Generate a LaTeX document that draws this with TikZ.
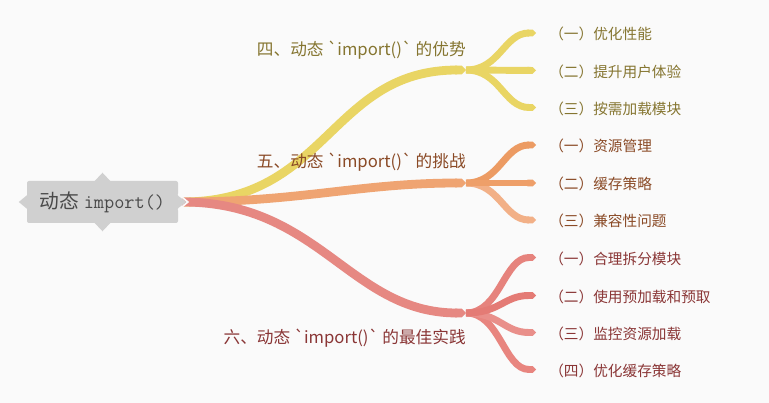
\documentclass[tikz,border=0pt]{standalone}
\usepackage{fontspec}
\setmainfont{Noto Sans CJK SC}
\usetikzlibrary{arrows.meta,calc}
\definecolor{bgc}{HTML}{FAFAFA}
\definecolor{rootc}{HTML}{D0D0D0}
\definecolor{roottxt}{HTML}{4A4A4A}
\definecolor{yel}{HTML}{E9D564}
\definecolor{yeltxt}{HTML}{857530}
\definecolor{ora}{HTML}{EFA472}
\definecolor{ora1}{HTML}{EC9B63}
\definecolor{ora2}{HTML}{EE9F69}
\definecolor{ora3}{HTML}{F2B087}
\definecolor{oratxt}{HTML}{8A4A26}
\definecolor{redm}{HTML}{E68882}
\definecolor{red1}{HTML}{E6837D}
\definecolor{red2}{HTML}{E47B75}
\definecolor{red3}{HTML}{E98F8A}
\definecolor{red4}{HTML}{E8857F}
\definecolor{redtxt}{HTML}{8A3636}
\begin{document}
\begin{tikzpicture}[x=0.75pt,y=-0.75pt,
  mainbr/.style={line width=6.6pt,-{Triangle Cap}},
  halo/.style={draw=bgc,line width=8.8pt,-{Triangle Cap}},
  subbr/.style={line width=5.2pt,-{Triangle Cap}},
  brlabel/.style={anchor=east,inner sep=0pt,font=\fontsize{12.5}{15}\selectfont},
  leaf/.style={anchor=west,inner sep=0pt,font=\fontsize{11}{13}\selectfont},
  rootbox/.style={fill=rootc,rounded corners=1.5pt,minimum width=113.25pt,minimum height=31.5pt,inner sep=0pt,text=roottxt,font=\fontsize{14.8}{17}\selectfont}
]
\fill[bgc] (0,0) rectangle (769,403);
\useasboundingbox (0,0) rectangle (769,403);

% root
\node[rootbox] (root) at (102.5,202) {动态 \texttt{import()}};
\fill[rootc] ($(root.north)+(-8,0.5)$) -- ($(root.north)+(0,-8)$) -- ($(root.north)+(8,0.5)$) -- cycle;
\fill[rootc] ($(root.south)+(-8,-0.5)$) -- ($(root.south)+(0,8)$) -- ($(root.south)+(8,-0.5)$) -- cycle;
\fill[rootc] ($(root.west)+(0.5,-7)$) -- ($(root.west)+(-8,0)$) -- ($(root.west)+(0.5,7)$) -- cycle;

\coordinate (S) at ($(root.east)+(4,0)$);
\coordinate (J1) at (466,70);
\coordinate (J2) at (466,183);
\coordinate (J3) at (466,313);

\coordinate (L11) at (536,33);
\coordinate (L12) at (536,70.5);
\coordinate (L13) at (536,107.5);
\coordinate (L21) at (536,145);
\coordinate (L22) at (536,183);
\coordinate (L23) at (536,220);
\coordinate (L31) at (536,257.5);
\coordinate (L32) at (536,295.5);
\coordinate (L33) at (536,332.5);
\coordinate (L34) at (536,369.5);

% sub branches
\draw[subbr,yel] (J1) .. controls +(34,0) and +(-32,0) .. (L11);
\draw[subbr,yel] (J1) -- (L12);
\draw[subbr,yel] (J1) .. controls +(34,0) and +(-32,0) .. (L13);

\draw[subbr,ora3] (J2) .. controls +(34,0) and +(-32,0) .. (L23);
\draw[subbr,ora1] (J2) .. controls +(34,0) and +(-32,0) .. (L21);
\draw[subbr,ora2] (J2) -- (L22);

\draw[subbr,red4] (J3) .. controls +(34,0) and +(-32,0) .. (L34);
\draw[subbr,red1] (J3) .. controls +(34,0) and +(-32,0) .. (L31);
\draw[subbr,red3] (J3) .. controls +(34,0) and +(-32,0) .. (L33);
\draw[subbr,red2] (J3) .. controls +(34,0) and +(-32,0) .. (L32);

% halos for notches
\draw[halo] ($(J1)+(-1,0)$) -- (J1);
\draw[halo] ($(J2)+(-1,0)$) -- (J2);
\draw[halo] ($(J3)+(-1,0)$) -- (J3);

% main branches
\draw[mainbr,yel] (S) .. controls +(146,0) and +(-136,0) .. (J1);
\draw[mainbr,ora] (S) .. controls +(118,0) and +(-106,0) .. (J2);
\draw[mainbr,redm] (S) .. controls +(138,0) and +(-116,0) .. (J3);

% right pointer with notch
\draw[bgc,line width=1.3pt] ($(root.east)+(0,-8)$) -- ($(root.east)+(9.5,0)$) -- ($(root.east)+(0,8)$);
\fill[rootc] ($(root.east)+(-0.5,-6.5)$) -- ($(root.east)+(8,0)$) -- ($(root.east)+(-0.5,6.5)$) -- cycle;

% branch labels
\node[brlabel,text=yeltxt] (b1) at (466,50.5) {四、动态 \textasciigrave{}import()\textasciigrave{} 的优势};
\node[brlabel,text=oratxt] (b2) at (466,162.5) {五、动态 \textasciigrave{}import()\textasciigrave{} 的挑战};
\node[brlabel,text=redtxt] (b3) at (466,338.5) {六、动态 \textasciigrave{}import()\textasciigrave{} 的最佳实践};

% leaf labels
\node[leaf,text=yeltxt] (t11) at ($(L11)+(13,1)$) {（一）优化性能};
\node[leaf,text=yeltxt] (t12) at ($(L12)+(13,1)$) {（二）提升用户体验};
\node[leaf,text=yeltxt] (t13) at ($(L13)+(13,1)$) {（三）按需加载模块};
\node[leaf,text=oratxt] (t21) at ($(L21)+(13,1)$) {（一）资源管理};
\node[leaf,text=oratxt] (t22) at ($(L22)+(13,1)$) {（二）缓存策略};
\node[leaf,text=oratxt] (t23) at ($(L23)+(13,1)$) {（三）兼容性问题};
\node[leaf,text=redtxt] (t31) at ($(L31)+(13,1)$) {（一）合理拆分模块};
\node[leaf,text=redtxt] (t32) at ($(L32)+(13,1)$) {（二）使用预加载和预取};
\node[leaf,text=redtxt] (t33) at ($(L33)+(13,1)$) {（三）监控资源加载};
\node[leaf,text=redtxt] (t34) at ($(L34)+(13,1)$) {（四）优化缓存策略};
\end{tikzpicture}
\end{document}
